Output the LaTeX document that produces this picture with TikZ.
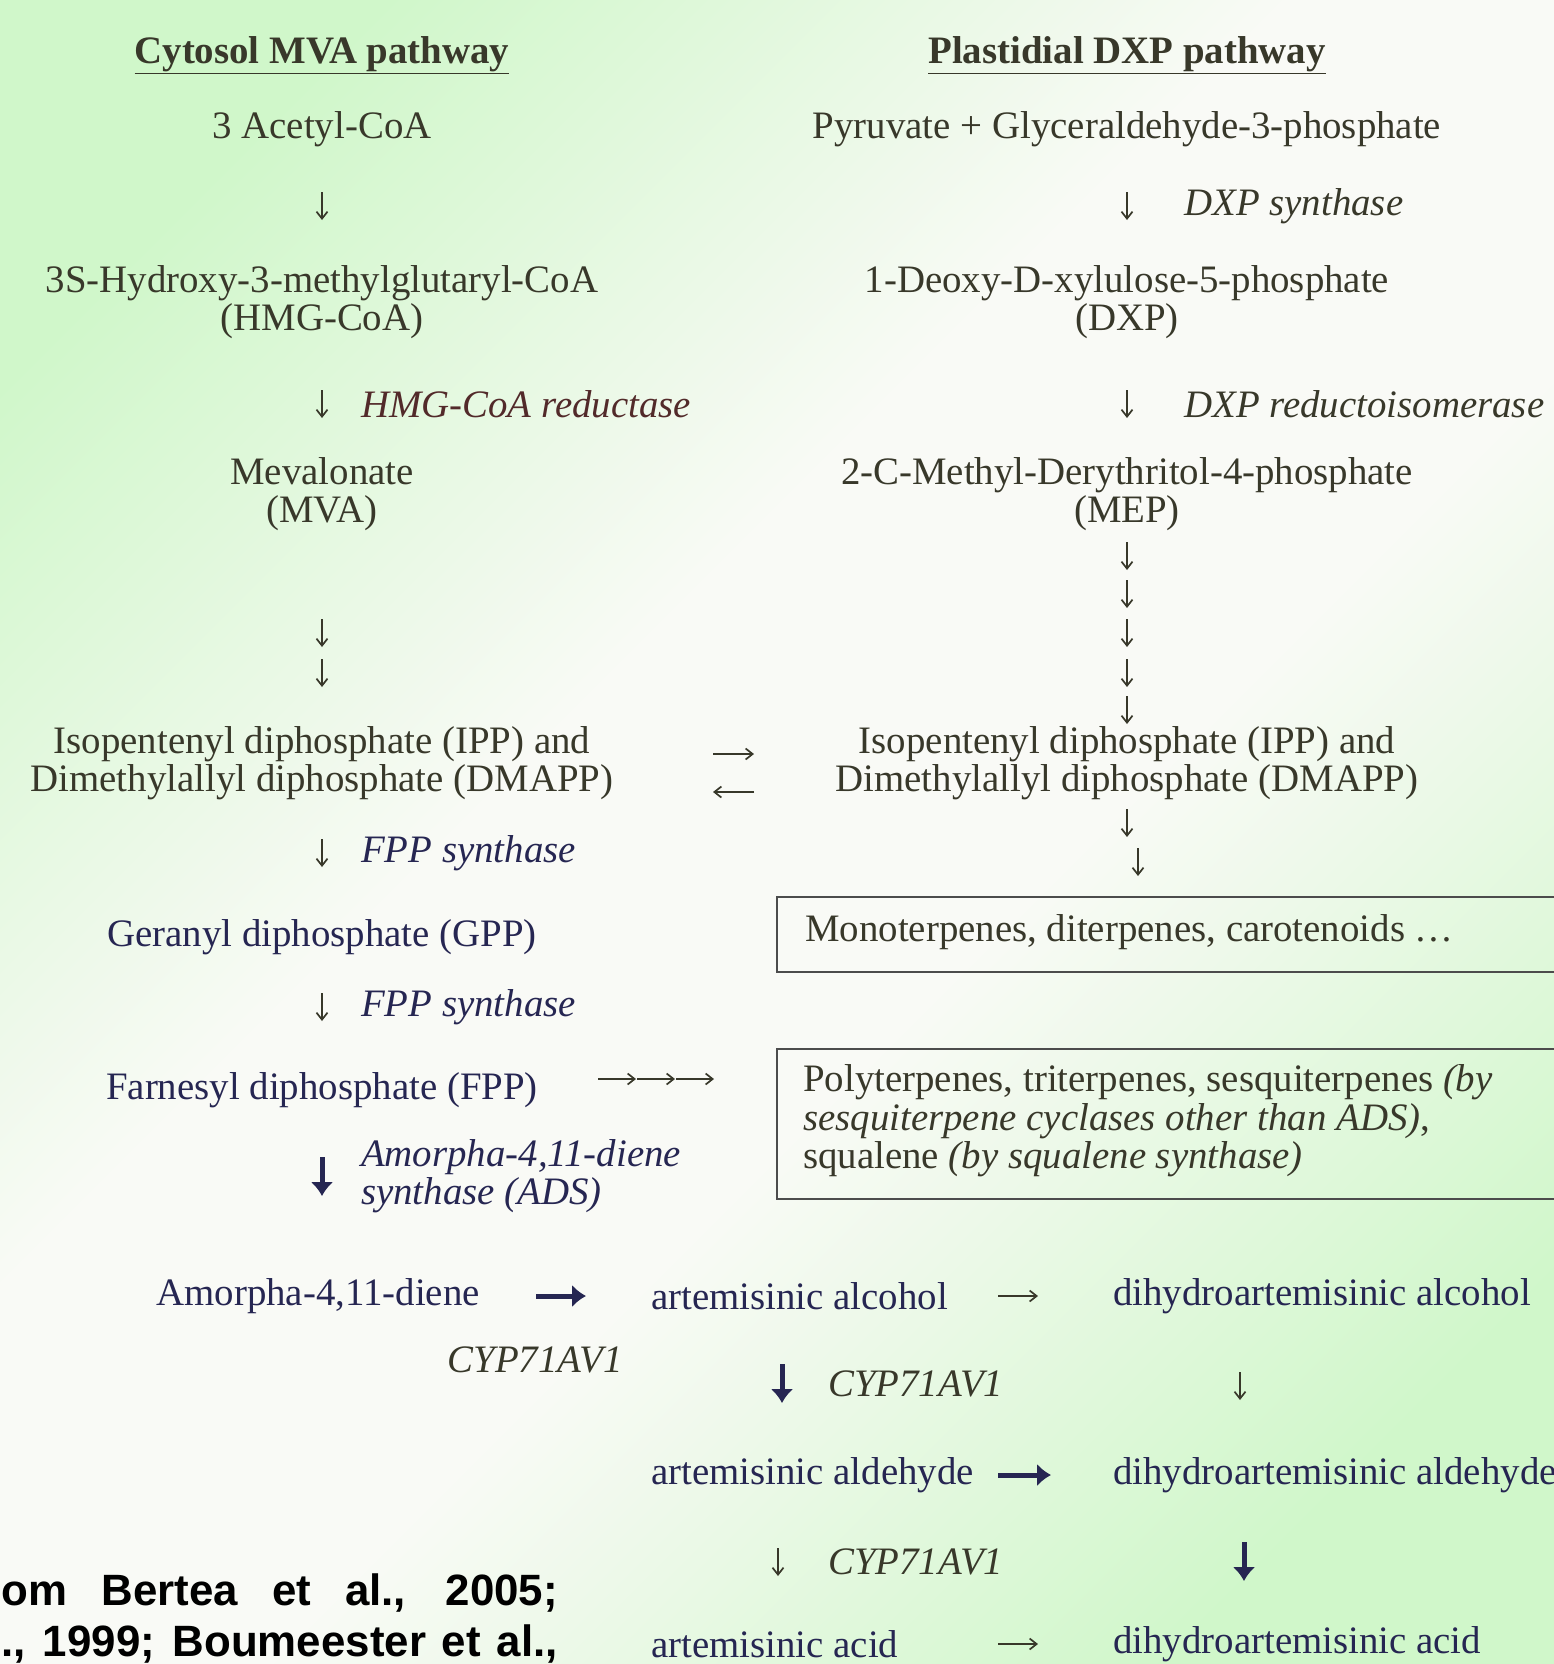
\documentclass[tikz,border=0pt]{standalone}
\usepackage{fontspec}
\setmainfont{Liberation Serif}
\newfontfamily\citefont{Liberation Sans}
\usetikzlibrary{arrows.meta}
\definecolor{olivetxt}{RGB}{56,56,42}
\definecolor{navytxt}{RGB}{38,38,82}
\definecolor{browntxt}{RGB}{82,42,42}
\definecolor{bgreen}{RGB}{208,247,202}
\definecolor{bwhite}{RGB}{249,250,246}
\pgfdeclareverticalshading{bgshade}{100bp}{color(0bp)=(bgreen); color(23bp)=(bgreen);
	color(43bp)=(bwhite); color(57bp)=(bwhite); color(77bp)=(bgreen); color(100bp)=(bgreen)}

\begin{document}
\begin{tikzpicture}[x=1bp,y=-1bp,
	every node/.style={inner sep=0pt, yshift=-4bp, font=\fontsize{39}{38.5}\selectfont},
	chem/.style={align=center, text=olivetxt},
	chemb/.style={align=center, text=navytxt},
	enz/.style={anchor=west, align=left, font=\fontsize{39}{38.5}\selectfont\itshape, text=olivetxt},
	ttl/.style={font=\fontsize{39}{38.5}\selectfont\bfseries, text=olivetxt},
	tarr/.style={-{Straight Barb[length=7bp,width=11bp]}, line width=1.7bp, draw=olivetxt},
	barr/.style={-{Latex[length=14bp,width=23bp]}, line width=5bp, draw=navytxt},
	pbox/.style={draw=black!70, line width=2.5bp},
	cite/.style={anchor=east, text=black, font=\fontsize{44}{46}\selectfont\citefont\bfseries}]
	%\draw[help lines] (0,0) grid[step=100] (1554,1664);
	\shade[shading=bgshade, shading angle=45] (0,0) rectangle (1554,1664);
	\useasboundingbox (0,0) rectangle (1554,1664);

	% cytosol MVA pathway
	\node[ttl] (mvattl) at (322,51) {\underline{Cytosol MVA pathway}};
	\node[chem] (acetyl) at (322,125) {3 Acetyl-CoA};
	\node[chem] (hmg) at (322,298) {3S-Hydroxy-3-methylglutaryl-CoA\\(HMG-CoA)};
	\node[enz, text=browntxt] (hmgr) at (361,400) {HMG-CoA reductase};
	\node[chem] (mva) at (322,490) {Mevalonate\\(MVA)};
	\node[chem] (ippl) at (322,759) {Isopentenyl diphosphate (IPP) and\\Dimethylallyl diphosphate (DMAPP)};
	\node[enz, text=navytxt] (fpps1) at (361,849) {FPP synthase};
	\node[chemb] (gpp) at (322,933) {Geranyl diphosphate (GPP)};
	\node[enz, text=navytxt] (fpps2) at (361,1003) {FPP synthase};
	\node[chemb] (fpp) at (322,1086) {Farnesyl diphosphate (FPP)};
	\node[enz, text=navytxt] (ads) at (361,1172) {Amorpha-4,11-diene\\synthase (ADS)};

	% plastidial DXP pathway
	\node[ttl] (dxpttl) at (1127,51) {\underline{Plastidial DXP pathway}};
	\node[chem] (pyr) at (1127,125) {Pyruvate + Glyceraldehyde-3-phosphate};
	\node[enz] (dxps) at (1184,202) {DXP synthase};
	\node[chem] (dxp) at (1127,298) {1-Deoxy-D-xylulose-5-phosphate\\(DXP)};
	\node[enz] (dxr) at (1184,400) {DXP reductoisomerase};
	\node[chem] (mep) at (1127,490) {2-C-Methyl-Derythritol-4-phosphate\\(MEP)};
	\node[chem] (ippr) at (1127,759) {Isopentenyl diphosphate (IPP) and\\Dimethylallyl diphosphate (DMAPP)};

	% side products
	\draw[pbox] (777,897) rectangle (1600,972);
	\node[chem, anchor=west] (mono) at (805,928) {Monoterpenes, diterpenes, carotenoids \dots};
	\draw[pbox] (777,1049) rectangle (1600,1199);
	\node[chem, anchor=west, align=left] (poly) at (803,1117) {Polyterpenes, triterpenes, sesquiterpenes \textit{(by}\\\textit{sesquiterpene cyclases other than ADS)},\\squalene \textit{(by squalene synthase)}};

	% artemisinin branch
	\node[chemb, anchor=east] (amd) at (480,1292) {Amorpha-4,11-diene};
	\node[enz, anchor=east] (cyp0) at (623,1356) {CYP71AV1};
	\node[chemb, anchor=west] (aalc) at (651,1292) {artemisinic alcohol};
	\node[chemb, anchor=west] (dalc) at (1113,1292) {dihydroartemisinic alcohol};
	\node[enz] (cyp1) at (828,1380) {CYP71AV1};
	\node[chemb, anchor=west] (aald) at (651,1471) {artemisinic aldehyde};
	\node[chemb, anchor=west] (dald) at (1113,1471) {dihydroartemisinic aldehyde};
	\node[enz] (cyp2) at (828,1558) {CYP71AV1};
	\node[chemb, anchor=west] (aacid) at (651,1640) {artemisinic acid};
	\node[chemb, anchor=west] (dacid) at (1113,1640) {dihydroartemisinic acid};

	\node[cite] (cite1) at (558,1589) {\makebox[556bp][s]{om Bertea et al., 2005;}};
	\node[cite] (cite2) at (558,1640) {\makebox[556bp][s]{., 1999; Boumeester et al.,}};

	% arrows
	\foreach \x/\y [count=\i] in {322/202, 322/400, 322/629, 322/669, 322/849, 322/1003,
		1127/202, 1127/400, 1127/552, 1127/590, 1127/629, 1127/669, 1127/706, 1127/819,
		1138/858, 1240/1382, 778/1558}
	{
		\coordinate (dn\i) at (\x,\y);
		\draw[tarr] ([yshift=14bp]dn\i) -- ([yshift=-14bp]dn\i);
	}
	\foreach \x/\y [count=\i] in {322/1173, 782/1380, 1244/1558}
	{
		\coordinate (bd\i) at (\x,\y);
		\draw[barr] ([yshift=20bp]bd\i) -- ([yshift=-19bp]bd\i);
	}
	\coordinate (ex1) at (713,750);
	\coordinate (ex2) at (754,788);
	\draw[tarr] (ex1) -- ++(41,0);
	\draw[tarr] (ex2) -- ++(-41,0);
	\foreach \x [count=\i] in {598,637,676}
	{
		\coordinate (fp\i) at (\x,1075);
		\draw[tarr] (fp\i) -- ++(38,0);
	}
	\coordinate (ha1) at (998,1292);
	\coordinate (ha2) at (998,1640);
	\draw[tarr] (ha1) -- ++(40,0);
	\draw[tarr] (ha2) -- ++(40,0);
	\coordinate (hb1) at (536,1292);
	\coordinate (hb2) at (998,1471);
	\draw[barr] (hb1) -- ++(50,0);
	\draw[barr] (hb2) -- ++(53,0);
\end{tikzpicture}
\end{document}
